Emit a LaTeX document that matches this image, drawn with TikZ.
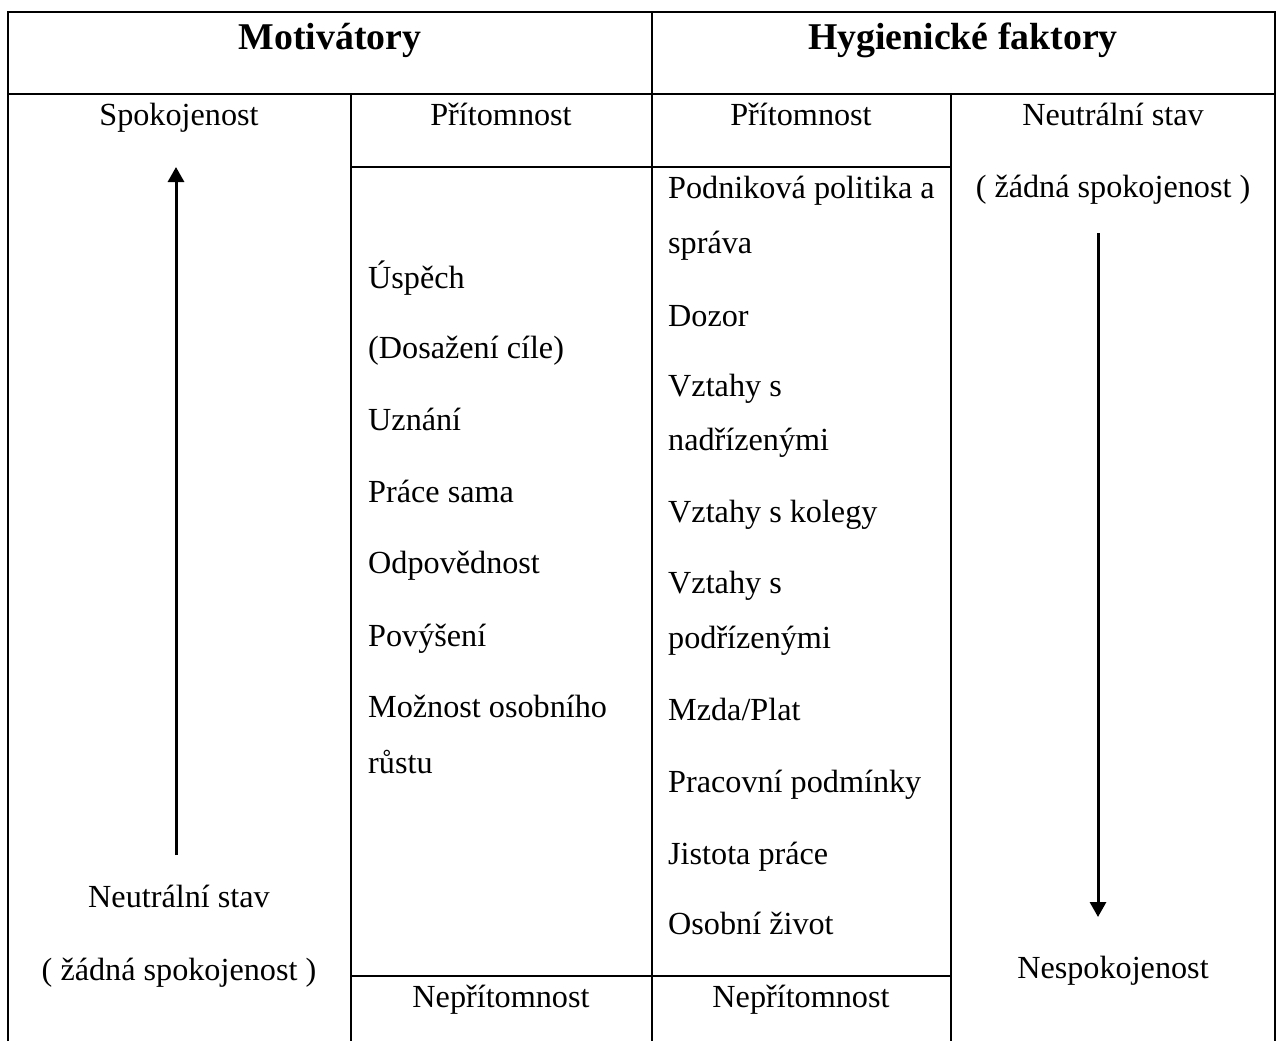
\documentclass[tikz,border=0pt]{standalone}
\usepackage{fontspec}
\setmainfont{Liberation Serif}
\usetikzlibrary{arrows.meta}

\tikzset{
  tableline/.style={line width=2.2pt},
  cell/.style={anchor=base, inner sep=0pt, font=\fontsize{32.2}{38}\selectfont},
  item/.style={anchor=base west, inner sep=0pt, font=\fontsize{32.2}{38}\selectfont},
  head/.style={anchor=base, inner sep=0pt, font=\fontsize{37.8}{44}\selectfont\bfseries},
  trend/.style={line width=3pt, -{Triangle[width=16pt,length=15pt]}}
}

\begin{document}
\begin{tikzpicture}[x=1pt, y=-1pt]

        \useasboundingbox (0,0) rectangle (1279,1041);

        % Table frame and cells
        \draw[tableline] (8,1041) -- (8,12) -- (1275,12) -- (1275,1041);
        \draw[tableline] (8,94) -- (1275,94);
        \draw[tableline] (652,12) -- (652,1041);
        \draw[tableline] (351,94) -- (351,1041);
        \draw[tableline] (951,94) -- (951,1041);
        \draw[tableline] (351,167) -- (951,167);
        \draw[tableline] (351,976) -- (951,976);

        % Headers
        \node[head] (motiv) at (330,49) {Motivátory};
        \node[head] (hyg) at (963,49) {Hygienické faktory};

        % Left column
        \node[cell] (spok) at (179,125) {Spokojenost};
        \node[cell] (neutrL) at (179,907) {Neutrální stav};
        \node[cell] (zadnaL) at (179,980) {( žádná spokojenost )};
        \coordinate (upbot) at (176,855);
        \coordinate (uptop) at (176,167);
        \draw[trend] (upbot) -- (uptop);

        % Motivators
        \node[cell] (pritM) at (501,125) {Přítomnost};
        \node[cell] (nepritM) at (501,1007) {Nepřítomnost};
        \foreach \nm/\yy/\txt in {m1/288/Úspěch, m2/358/(Dosažení cíle), m3/430/Uznání,
            m4/502/Práce sama, m5/573/Odpovědnost, m6/646/Povýšení,
            m7/717/Možnost osobního, m8/773/růstu}
          \node[item] (\nm) at (368,\yy) {\txt};

        % Hygiene factors
        \node[cell] (pritH) at (801,125) {Přítomnost};
        \node[cell] (nepritH) at (801,1007) {Nepřítomnost};
        \foreach \nm/\yy/\txt in {h1/198/Podniková politika a, h2/253/správa, h3/326/Dozor,
            h4/396/Vztahy s, h5/450/nadřízenými, h6/522/Vztahy s kolegy,
            h7/593/Vztahy s, h8/648/podřízenými, h9/720/{Mzda/Plat},
            h10/792/Pracovní podmínky, h11/864/Jistota práce, h12/934/Osobní život}
          \node[item] (\nm) at (668,\yy) {\txt};

        % Right column
        \node[cell] (neutrR) at (1113,125) {Neutrální stav};
        \node[cell] (zadnaR) at (1113,197) {( žádná spokojenost )};
        \node[cell] (nespok) at (1113,978) {Nespokojenost};
        \coordinate (downtop) at (1098,233);
        \coordinate (downbot) at (1098,917);
        \draw[trend] (downtop) -- (downbot);

\end{tikzpicture}
\end{document}
